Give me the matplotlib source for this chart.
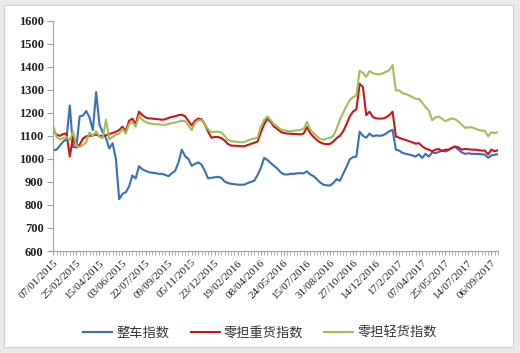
import matplotlib.pyplot as plt
from matplotlib.patches import Rectangle
from matplotlib.ticker import FixedLocator, MultipleLocator
import numpy as np

# weekly index values (136 weeks)
whole_truck = [1038, 1040, 1058, 1075, 1085, 1232, 1052, 1050, 1185, 1188,
               1208, 1180, 1125, 1290, 1150, 1115, 1090, 1045, 1068, 1000,
               825, 848, 855, 880, 928, 915, 968, 955, 948, 942,
               940, 938, 935, 935, 930, 925, 938, 948, 985, 1040,
               1012, 1000, 970, 978, 985, 975, 948, 915, 918, 920,
               922, 918, 902, 895, 892, 890, 888, 888, 888, 895,
               900, 905, 930, 960, 1005, 995, 982, 970, 958, 942,
               933, 932, 935, 935, 937, 938, 937, 946, 932, 925,
               912, 898, 888, 885, 884, 895, 912, 905, 935, 965,
               998, 1008, 1010, 1118, 1100, 1092, 1110, 1098, 1102, 1100,
               1102, 1110, 1120, 1126, 1040, 1036, 1026, 1022, 1019, 1015,
               1010, 1020, 1004, 1022, 1010, 1028, 1025, 1030, 1036, 1032,
               1038, 1048, 1052, 1040, 1028, 1022, 1024, 1022, 1022, 1021,
               1020, 1019, 1005, 1015, 1018, 1020]
heavy_ltl = [1120, 1105, 1100, 1108, 1110, 1010, 1098, 1050, 1062, 1088,
             1098, 1100, 1102, 1105, 1100, 1100, 1102, 1108, 1112, 1118,
             1125, 1140, 1120, 1165, 1175, 1150, 1205, 1190, 1180, 1176,
             1175, 1173, 1172, 1170, 1172, 1178, 1182, 1185, 1190, 1192,
             1185, 1165, 1145, 1165, 1175, 1172, 1150, 1118, 1092, 1095,
             1095, 1090, 1080, 1065, 1058, 1057, 1056, 1055, 1055, 1060,
             1065, 1070, 1075, 1115, 1150, 1175, 1160, 1140, 1130, 1118,
             1112, 1110, 1109, 1108, 1108, 1106, 1110, 1138, 1112, 1095,
             1082, 1072, 1066, 1064, 1065, 1075, 1090, 1100, 1120, 1150,
             1185, 1205, 1215, 1326, 1312, 1190, 1205, 1182, 1176, 1175,
             1175, 1180, 1190, 1205, 1097, 1092, 1086, 1082, 1077, 1072,
             1066, 1068, 1055, 1045, 1040, 1033, 1040, 1043, 1034, 1040,
             1040, 1048, 1054, 1050, 1040, 1043, 1042, 1040, 1040, 1038,
             1036, 1036, 1020, 1040, 1033, 1038]
light_ltl = [1142, 1095, 1085, 1090, 1095, 1080, 1120, 1055, 1052, 1060,
             1072, 1115, 1100, 1120, 1095, 1090, 1170, 1085, 1095, 1105,
             1110, 1130, 1110, 1150, 1160, 1140, 1185, 1170, 1160, 1155,
             1152, 1150, 1150, 1148, 1148, 1152, 1155, 1158, 1162, 1165,
             1165, 1145, 1125, 1155, 1168, 1168, 1150, 1128, 1116, 1118,
             1118, 1115, 1100, 1082, 1077, 1075, 1073, 1072, 1073, 1080,
             1085, 1088, 1092, 1140, 1170, 1184, 1168, 1150, 1140, 1128,
             1124, 1121, 1120, 1122, 1124, 1126, 1130, 1160, 1128, 1112,
             1098, 1088, 1083, 1088, 1092, 1100, 1130, 1170, 1200, 1230,
             1255, 1268, 1275, 1383, 1373, 1356, 1382, 1372, 1368, 1367,
             1372, 1378, 1385, 1407, 1297, 1298, 1285, 1282, 1276, 1268,
             1261, 1260, 1245, 1225, 1210, 1168, 1180, 1184, 1174, 1164,
             1170, 1176, 1172, 1162, 1148, 1135, 1136, 1138, 1132, 1126,
             1123, 1122, 1098, 1116, 1112, 1116]

date_labels = ['07/01/2015', '25/02/2015', '15/04/2015', '03/06/2015',
               '22/07/2015', '09/09/2015', '05/11/2015', '23/12/2015',
               '19/02/2016', '08/04/2016', '24/05/2016', '15/07/2016',
               '31/08/2016', '27/10/2016', '14/12/2016', '17/2/2017',
               '07/04/2017', '25/05/2017', '14/07/2017', '06/09/2017']
y_ticks = [600, 700, 800, 900, 1000, 1100, 1200, 1300, 1400, 1500, 1600]
series_names = ['整车指数', '零担重货指数', '零担轻货指数']
colors = ['#3B6DB8', '#C8161D', '#A2BE5A']

plt.rcParams['font.family'] = ['Noto Sans CJK SC', 'DejaVu Sans']

fig = plt.figure(figsize=(5.2, 3.53), dpi=100)
fig.patch.set_facecolor('#e9e9e9')
fig.patches.append(Rectangle((4 / 520, 6 / 353), 509 / 520, 342 / 353,
                             transform=fig.transFigure, facecolor='white',
                             edgecolor='#d0d0d0', linewidth=0.8, zorder=-10))

ax = fig.add_axes([53.3 / 520, 1 - 251 / 353, (498 - 53.3) / 520, (251 - 20.7) / 353])
ax.set_facecolor('none')
ax.set_zorder(5)

x = np.arange(len(whole_truck))
for y, c, name in zip([whole_truck, heavy_ltl, light_ltl], colors, series_names):
    ax.plot(x, y, color=c, lw=1.5, label=name)

ax.set_xlim(0, len(whole_truck) - 1)
ax.set_ylim(600, 1600)
ax.set_yticks(y_ticks)
ax.set_yticklabels([str(v) for v in y_ticks], family='Liberation Serif',
                   fontweight='bold', fontsize=9, color='#222222')

ax.xaxis.set_major_locator(FixedLocator(np.arange(len(date_labels)) * 7))
ax.xaxis.set_minor_locator(MultipleLocator(1))
ax.set_xticklabels(date_labels, rotation=45, ha='right', va='top',
                   rotation_mode='anchor', family='Liberation Serif',
                   fontsize=8, color='#222222')

ax.tick_params(axis='x', which='both', length=3, color='#a0a0a0', pad=2)
ax.tick_params(axis='y', length=4, color='#a0a0a0', pad=3)
for s in ['top', 'right']:
    ax.spines[s].set_visible(False)
for s in ['left', 'bottom']:
    ax.spines[s].set_color('#a0a0a0')
    ax.spines[s].set_linewidth(0.8)

leg = fig.legend(loc='center', bbox_to_anchor=(0.5, 1 - 333 / 353), ncol=3,
                 frameon=False, fontsize=9.5, handlelength=2.2, handletextpad=0.3,
                 columnspacing=1.6)
for t in leg.get_texts():
    t.set_color('#333333')

fig.savefig('out.png', dpi=100, facecolor=fig.get_facecolor())
